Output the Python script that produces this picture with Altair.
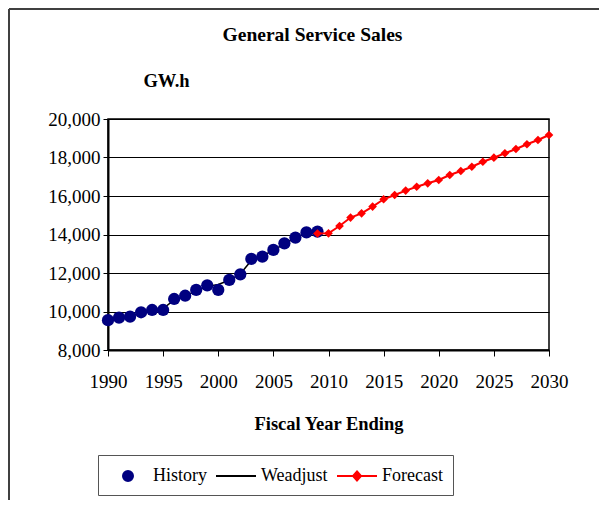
import altair as alt
import pandas as pd

# ---- data ----
series_names = ["History", "Weadjust", "Forecast"]
series_colors = ["#000080", "#000000", "#ff0000"]

hist_years = list(range(1990, 2010))
hist_vals = [9550, 9680, 9730, 9960, 10080, 10080, 10650, 10820, 11120, 11360,
             11120, 11640, 11930, 12730, 12850, 13200, 13540, 13840, 14110, 14150]

adj_years = list(range(1990, 2010))
adj_vals = [9600, 9680, 9760, 9950, 10060, 10150, 10600, 10800, 11080, 11300,
            11400, 11620, 11950, 12650, 12880, 13180, 13520, 13830, 14080, 14100]

fc_years = list(range(2009, 2031))
fc_vals = [14050, 14060, 14440, 14880, 15100, 15450, 15830, 16050, 16280, 16480,
           16660, 16830, 17090, 17300, 17520, 17780, 17990, 18220, 18440, 18690,
           18910, 19170]

x_ticks = list(range(1990, 2031, 5))
y_ticks = list(range(8000, 20001, 2000))

hist_df = pd.DataFrame({"Year": hist_years, "Sales": hist_vals, "Series": series_names[0]})
adj_df = pd.DataFrame({"Year": adj_years, "Sales": adj_vals, "Series": series_names[1]})
fc_df = pd.DataFrame({"Year": fc_years, "Sales": fc_vals, "Series": series_names[2]})

FONT = "Liberation Serif"

CIRCLE = "M-0.5,0A0.5,0.5,0,1,1,0.5,0A0.5,0.5,0,1,1,-0.5,0Z"
LINE = "M-2,0H2"
LINE_DIAMOND = "M-2,0H2M0,-0.45L0.4,0L0,0.45L-0.4,0Z"


def per_item(a, b, c):
    return alt.ExprRef(
        expr=f"datum.value === 'History' ? '{a}' : (datum.value === 'Weadjust' ? '{b}' : '{c}')")


legend = alt.Legend(
    orient="none", legendX=-10, legendY=336, direction="horizontal",
    title=" ", titleOrient="left", titlePadding=9, titleFontSize=18, titleFont=FONT,
    symbolSize=400, symbolStrokeWidth=2, labelOffset=14, columnPadding=5,
    padding=10, strokeColor="#555555", labelFont=FONT, labelFontSize=18,
    labelColor="#000000", symbolOpacity=1,
    symbolType=per_item(CIRCLE, LINE, LINE_DIAMOND),
    symbolFillColor=per_item("#000080", "#000000", "#ff0000"),
    symbolStrokeColor=per_item("#000080", "#000000", "#ff0000"),
)

color = alt.Color("Series:N", scale=alt.Scale(domain=series_names, range=series_colors), legend=legend)

x = alt.X("Year:Q", scale=alt.Scale(domain=[1990, 2030], nice=False, zero=False),
          axis=alt.Axis(values=x_ticks, format="d", tickSize=6, labelPadding=16,
                        labelFlush=False, grid=False, domainWidth=2,
                        title="Fiscal Year Ending", titleY=73, titleBaseline="middle",
                        titleFontSize=18.5))
y = alt.Y("Sales:Q", scale=alt.Scale(domain=[8000, 20000], nice=False, zero=False),
          axis=alt.Axis(values=y_ticks, format=",.0f", tickSize=5, labelPadding=3,
                        domainWidth=2, grid=True, gridColor="#000000", gridWidth=1,
                        title="GW.h", titleAngle=0, titleX=58, titleY=-39,
                        titleAlign="center", titleBaseline="middle", titleFontSize=18.5))

adj_layer = alt.Chart(adj_df).mark_line(strokeWidth=1.5).encode(x=x, y=y, color=color)
hist_layer = alt.Chart(hist_df).mark_point(filled=True, shape="circle", size=150, opacity=1).encode(
    x=x, y=y, color=color)
fc_layer = alt.Chart(fc_df).mark_line(
    strokeWidth=2,
    point=alt.OverlayMarkDef(shape="diamond", size=75, filled=True, opacity=1),
).encode(x=x, y=y, color=color)

frame_df = pd.DataFrame({"k": [0]})
frame_left = alt.Chart(frame_df).mark_rule(color="#404040", strokeWidth=2).encode(
    x=alt.value(-99), y=alt.value(-110), y2=alt.value(400))
frame_top = alt.Chart(frame_df).mark_rule(color="#404040", strokeWidth=2).encode(
    x=alt.value(-99), x2=alt.value(520), y=alt.value(-110))

chart = alt.layer(frame_left, frame_top, adj_layer, hist_layer, fc_layer).properties(
    width=441, height=231,
    padding={"left": 100, "top": 111, "right": 50, "bottom": 150},
    autosize=alt.AutoSizeParams(type="none"),
    background="white",
    title=alt.TitleParams("General Service Sales", font=FONT, fontSize=19.5,
                          fontWeight="bold", color="#000000", anchor="middle",
                          dx=-16, offset=0, dy=37),
).configure_axis(
    labelFont=FONT, labelFontSize=19, labelColor="#000000", tickColor="#000000",
    domainColor="#000000", titleFont=FONT, titleFontWeight="bold", titleColor="#000000",
).configure_view(stroke="#000000", strokeWidth=1.5)

chart.save("out.html", embed_options={"renderer": "svg", "actions": False})
